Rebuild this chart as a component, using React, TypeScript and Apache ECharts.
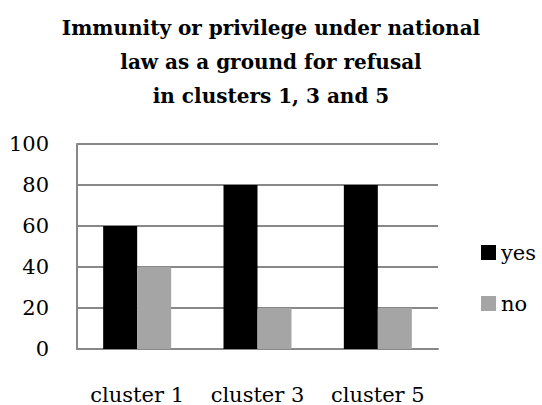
import React, { useEffect, useRef } from "react";
import * as echarts from "echarts";

const categories = ["cluster 1", "cluster 3", "cluster 5"];
const yesValues = [60, 80, 80];
const noValues = [40, 20, 20];
const seriesNames = ["yes", "no"];
const titleText = "Immunity or privilege under national\nlaw as a ground for refusal\nin clusters 1, 3 and 5";

const FONT = "'DejaVu Serif', serif";

export default function App() {
  const ref = useRef<HTMLDivElement>(null);
  useEffect(() => {
    if (!ref.current) return;
    const chart = echarts.init(ref.current, undefined, { renderer: "svg" });
    chart.setOption({
      animation: false,
      backgroundColor: "#ffffff",
      title: {
        text: titleText,
        left: "center",
        top: 6,
        textStyle: {
          fontFamily: FONT,
          fontWeight: "bold",
          fontSize: 20,
          lineHeight: 34,
          color: "#000",
        },
      },
      legend: {
        orient: "vertical",
        left: 476,
        top: 237,
        itemWidth: 15,
        itemHeight: 15,
        itemGap: 30,
        icon: "rect",
        textStyle: { fontFamily: FONT, fontSize: 21, color: "#000" },
        data: seriesNames,
      },
      grid: { left: 77, right: 104, top: 144, bottom: 53, containLabel: false },
      xAxis: {
        type: "category",
        data: categories,
        axisTick: { show: false },
        axisLine: { lineStyle: { color: "#888888", width: 2 } },
        axisLabel: { fontFamily: FONT, fontSize: 21, color: "#000", margin: 35, interval: 0, hideOverlap: false },
      },
      yAxis: {
        type: "value",
        min: 0,
        max: 100,
        interval: 20,
        axisLine: { show: true, lineStyle: { color: "#888888", width: 2 } },
        axisTick: { show: false },
        splitLine: { lineStyle: { color: "#888888", width: 2 } },
        axisLabel: { fontFamily: FONT, fontSize: 21, color: "#000", margin: 28 },
      },
      series: [
        {
          name: seriesNames[0],
          type: "bar",
          data: yesValues,
          barWidth: 34,
          barGap: "0%",
          itemStyle: { color: "#000000" },
        },
        {
          name: seriesNames[1],
          type: "bar",
          data: noValues,
          barWidth: 34,
          barGap: "0%",
          itemStyle: { color: "#a5a5a5" },
        },
      ],
    });
    return () => chart.dispose();
  }, []);
  return <div ref={ref} style={{ width: 542, height: 405, position: "absolute", left: 0, top: 0 }} />;
}
